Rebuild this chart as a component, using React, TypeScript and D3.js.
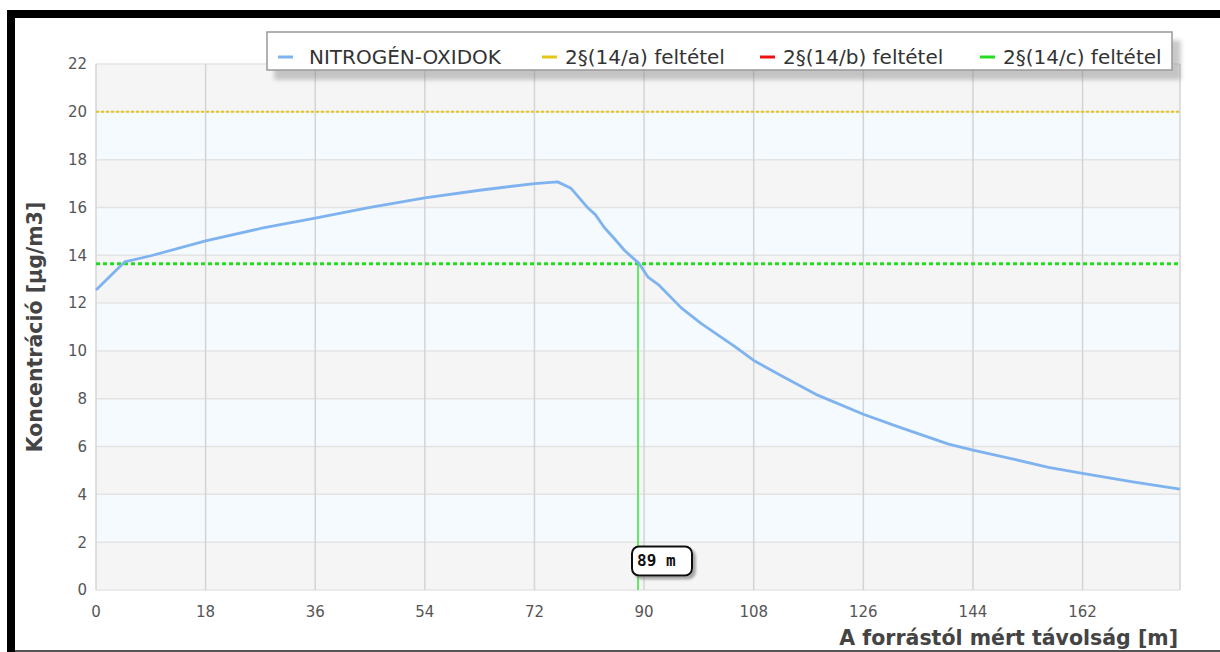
import React, { useEffect, useRef } from 'react';
import * as d3 from 'd3';

// distance from source [m] and NOx concentration [µg/m3]
const distances = [
  0, 3.6, 4.7, 9, 18, 27, 36, 45, 54, 63, 72, 75.8, 78, 80.7, 82, 83.5, 85.1, 86.8,
  89.2, 90.6, 92.5, 96.1, 99.4, 104.8, 108, 113, 118.5, 126, 132, 140, 144, 151,
  156.4, 162, 170, 178,
];
const concentrations = [
  12.55, 13.45, 13.72, 13.98, 14.6, 15.12, 15.55, 16.0, 16.4, 16.72, 17.0, 17.07,
  16.8, 16.0, 15.7, 15.15, 14.7, 14.2, 13.65, 13.1, 12.74, 11.8, 11.14, 10.2, 9.6,
  8.9, 8.15, 7.35, 6.8, 6.1, 5.85, 5.45, 5.13, 4.88, 4.53, 4.22,
];

const xTicks = [0, 18, 36, 54, 72, 90, 108, 126, 144, 162];
const yTicks = [0, 2, 4, 6, 8, 10, 12, 14, 16, 18, 20, 22];

const limitA = 20; // 2§(14/a)
const limitC = 13.65; // 2§(14/c)
const crossing = 89; // m

const legendItems = [
  { label: 'NITROGÉN-OXIDOK', color: '#7fb3ef' },
  { label: '2§(14/a) feltétel', color: '#e6c619' },
  { label: '2§(14/b) feltétel', color: '#ee1111' },
  { label: '2§(14/c) feltétel', color: '#22dd22' },
];

const width = 1220;
const height = 652;
const margin = { top: 64, right: 40, bottom: 62, left: 96 };

const App: React.FC = () => {
  const svgRef = useRef<SVGSVGElement>(null);

  useEffect(() => {
    if (!svgRef.current) return;
    const svg = d3.select(svgRef.current);
    svg.selectAll('*').remove();

    const innerWidth = width - margin.left - margin.right;
    const innerHeight = height - margin.top - margin.bottom;

    const x = d3.scaleLinear().domain([0, 178]).range([0, innerWidth]);
    const y = d3.scaleLinear().domain([0, 22]).range([innerHeight, 0]);

    const defs = svg.append('defs');
    const shadow = defs.append('filter').attr('id', 'shadow').attr('x', '-10%').attr('y', '-20%').attr('width', '130%').attr('height', '180%');
    shadow.append('feDropShadow').attr('dx', 8).attr('dy', 9).attr('stdDeviation', 2)
      .attr('flood-color', '#888').attr('flood-opacity', 0.45);
    const small = defs.append('filter').attr('id', 'shadowSmall').attr('x', '-20%').attr('y', '-20%').attr('width', '150%').attr('height', '160%');
    small.append('feDropShadow').attr('dx', 3).attr('dy', 3).attr('stdDeviation', 1.2)
      .attr('flood-color', '#777').attr('flood-opacity', 0.6);

    // frame
    svg.append('rect').attr('x', 7).attr('y', 10).attr('width', width - 7).attr('height', 8).attr('fill', '#000');
    svg.append('rect').attr('x', 7).attr('y', 10).attr('width', 8).attr('height', height - 10).attr('fill', '#000');
    svg.append('rect').attr('x', 15).attr('y', 650).attr('width', width - 15).attr('height', 2).attr('fill', '#555');

    const g = svg.append('g').attr('transform', `translate(${margin.left},${margin.top})`);

    // alternating bands
    const bands = yTicks.slice(0, -1);
    g.selectAll('.band')
      .data(bands)
      .enter()
      .append('rect')
      .attr('x', 0)
      .attr('width', innerWidth)
      .attr('y', d => y(d + 2))
      .attr('height', d => y(d) - y(d + 2))
      .attr('fill', (d, i) => (i % 2 === 0 ? '#f5f5f5' : '#f5faff'));

    g.selectAll('.hgrid')
      .data(yTicks)
      .enter()
      .append('line')
      .attr('x1', 0)
      .attr('x2', innerWidth)
      .attr('y1', d => y(d))
      .attr('y2', d => y(d))
      .attr('stroke', '#e4e4e4')
      .attr('stroke-width', 1.5);

    g.selectAll('.vgrid')
      .data([...xTicks, 178])
      .enter()
      .append('line')
      .attr('x1', d => x(d))
      .attr('x2', d => x(d))
      .attr('y1', 0)
      .attr('y2', innerHeight)
      .attr('stroke', '#d4d4d4')
      .attr('stroke-width', 1.5);

    // tick labels
    g.selectAll('.ylab')
      .data(yTicks)
      .enter()
      .append('text')
      .attr('x', -9)
      .attr('y', d => y(d))
      .attr('dy', '0.36em')
      .attr('text-anchor', 'end')
      .style('font-family', 'DejaVu Sans, sans-serif')
      .style('font-size', '15px')
      .style('fill', '#555')
      .text(d => d);

    g.selectAll('.xlab')
      .data(xTicks)
      .enter()
      .append('text')
      .attr('x', d => x(d))
      .attr('y', innerHeight + 27)
      .attr('text-anchor', 'middle')
      .style('font-family', 'DejaVu Sans, sans-serif')
      .style('font-size', '15px')
      .style('fill', '#555')
      .text(d => d);

    // limit lines
    g.append('line')
      .attr('x1', 0).attr('x2', innerWidth)
      .attr('y1', y(limitA)).attr('y2', y(limitA))
      .attr('stroke', legendItems[1].color)
      .attr('stroke-width', 2)
      .attr('stroke-dasharray', '3,2');

    g.append('line')
      .attr('x1', 0).attr('x2', innerWidth)
      .attr('y1', y(limitC)).attr('y2', y(limitC))
      .attr('stroke', legendItems[3].color)
      .attr('stroke-width', 3)
      .attr('stroke-dasharray', '4,3');

    g.append('line')
      .attr('x1', x(crossing)).attr('x2', x(crossing))
      .attr('y1', y(limitC)).attr('y2', innerHeight)
      .attr('stroke', '#33e633')
      .attr('stroke-width', 1.5);

    // series
    const points: [number, number][] = distances.map((d, i) => [d, concentrations[i]]);
    const line = d3
      .line<[number, number]>()
      .x(d => x(d[0]))
      .y(d => y(d[1]));
    g.append('path')
      .datum(points)
      .attr('d', line)
      .attr('fill', 'none')
      .attr('stroke', legendItems[0].color)
      .attr('stroke-width', 2.8)
      .attr('stroke-linejoin', 'round');

    // crossing annotation
    const ann = g.append('g').attr('transform', `translate(${x(crossing) - 6},${y(1.82)})`);
    ann.append('rect')
      .attr('width', 60).attr('height', 29).attr('rx', 7)
      .attr('fill', '#fff').attr('stroke', '#111').attr('stroke-width', 2)
      .attr('filter', 'url(#shadowSmall)');
    ann.append('text')
      .attr('x', 5).attr('y', 20)
      .style('font-family', 'DejaVu Sans Mono, monospace')
      .style('font-weight', 'bold')
      .style('font-size', '16px')
      .style('fill', '#111')
      .text(`${crossing} m`);

    // axis titles
    g.append('text')
      .attr('x', innerWidth - 2)
      .attr('y', innerHeight + 55)
      .attr('text-anchor', 'end')
      .style('font-family', 'DejaVu Sans, sans-serif')
      .style('font-weight', 'bold')
      .style('font-size', '20.5px')
      .style('fill', '#444')
      .text('A forrástól mért távolság [m]');

    g.append('text')
      .attr('transform', `translate(${42 - margin.left},${innerHeight / 2}) rotate(-90)`)
      .attr('text-anchor', 'middle')
      .style('font-family', 'DejaVu Sans, sans-serif')
      .style('font-weight', 'bold')
      .style('font-size', '20.5px')
      .style('fill', '#444')
      .text('Koncentráció [µg/m3]');

    // legend
    const legend = svg.append('g').attr('transform', 'translate(267,32)');
    legend.append('rect')
      .attr('width', 905).attr('height', 38)
      .attr('fill', '#fff').attr('stroke', '#999').attr('stroke-width', 1.5)
      .attr('filter', 'url(#shadow)');
    const offsets = [11, 275, 493, 713];
    legendItems.forEach((item, i) => {
      const it = legend.append('g').attr('transform', `translate(${offsets[i]},0)`);
      it.append('line')
        .attr('x1', 0).attr('x2', 15).attr('y1', 25).attr('y2', 25)
        .attr('stroke', item.color).attr('stroke-width', 3);
      it.append('text')
        .attr('x', i === 0 ? 31 : 23).attr('y', 25)
        .attr('dy', '0.36em')
        .style('font-family', 'DejaVu Sans, sans-serif')
        .style('font-size', '20px')
        .style('fill', '#333')
        .text(item.label);
    });
  }, []);

  return (
    <div style={{ position: 'absolute', left: 0, top: 0 }}>
      <svg ref={svgRef} width={width} height={height} style={{ display: 'block', background: '#fff' }} />
    </div>
  );
};

export default App;
